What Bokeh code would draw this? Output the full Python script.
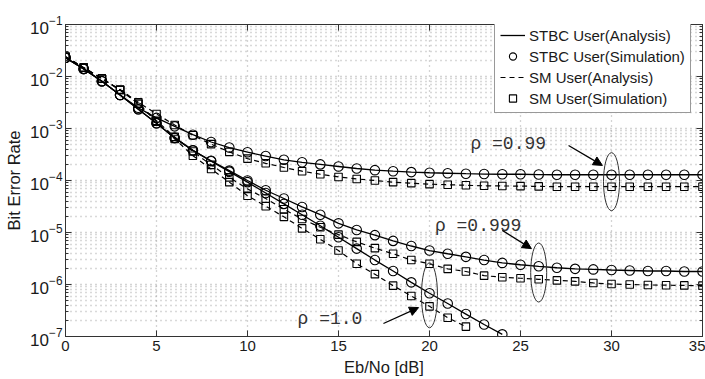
from bokeh.plotting import figure
from bokeh.models import (LinearAxis, SingleIntervalTicker, FixedTicker,
                          Legend, LegendItem, Arrow, NormalHead, Range1d)
from bokeh.core.properties import value
from bokeh.embed import file_html
from bokeh.resources import INLINE

# ---------------- data ----------------
ebno = list(range(36))
ebno_rho1_stbc = list(range(25))
ebno_rho1_sm = list(range(23))

stbc_099 = [2.3e-2, 1.4e-2, 8.1e-3, 4.4e-3, 2.5e-3, 1.6e-3, 1.1e-3, 7.6e-4, 5.5e-4, 4.3e-4,
            3.5e-4, 2.95e-4, 2.5e-4, 2.24e-4, 2.04e-4, 1.86e-4, 1.70e-4, 1.58e-4, 1.51e-4, 1.45e-4,
            1.41e-4, 1.38e-4, 1.35e-4, 1.33e-4, 1.32e-4, 1.32e-4, 1.30e-4, 1.29e-4, 1.29e-4, 1.29e-4,
            1.29e-4, 1.29e-4, 1.29e-4, 1.29e-4, 1.29e-4, 1.29e-4]
sm_099 = [2.4e-2, 1.48e-2, 9.1e-3, 5.6e-3, 3.2e-3, 1.9e-3, 1.17e-3, 7.4e-4, 5.0e-4, 3.55e-4,
          2.63e-4, 2.14e-4, 1.78e-4, 1.51e-4, 1.32e-4, 1.17e-4, 1.07e-4, 1.0e-4, 9.3e-5, 8.9e-5,
          8.5e-5, 8.3e-5, 8.1e-5, 7.9e-5, 7.85e-5, 7.8e-5, 7.7e-5, 7.6e-5, 7.6e-5, 7.6e-5,
          7.6e-5, 7.6e-5, 7.6e-5, 7.6e-5, 7.6e-5, 7.6e-5]
stbc_0999 = [2.3e-2, 1.4e-2, 8.1e-3, 4.4e-3, 2.34e-3, 1.26e-3, 6.6e-4, 3.8e-4, 2.4e-4, 1.55e-4,
             1.0e-4, 6.5e-5, 4.5e-5, 3.1e-5, 2.2e-5, 1.5e-5, 1.12e-5, 8.9e-6, 6.9e-6, 5.5e-6,
             4.5e-6, 3.9e-6, 3.4e-6, 2.95e-6, 2.6e-6, 2.4e-6, 2.24e-6, 2.1e-6, 2.0e-6, 1.95e-6,
             1.9e-6, 1.86e-6, 1.82e-6, 1.82e-6, 1.78e-6, 1.78e-6]
sm_0999 = [2.4e-2, 1.48e-2, 9.1e-3, 5.5e-3, 3.0e-3, 1.41e-3, 6.9e-4, 3.6e-4, 2.0e-4, 1.15e-4,
           6.9e-5, 4.5e-5, 2.8e-5, 1.82e-5, 1.26e-5, 9.1e-6, 6.6e-6, 5.0e-6, 3.9e-6, 2.95e-6,
           2.5e-6, 2.0e-6, 1.78e-6, 1.48e-6, 1.38e-6, 1.32e-6, 1.26e-6, 1.2e-6, 1.15e-6, 1.07e-6,
           1.02e-6, 1.0e-6, 9.8e-7, 9.7e-7, 9.6e-7, 9.5e-7]
stbc_1 = [2.3e-2, 1.4e-2, 8.1e-3, 4.4e-3, 2.34e-3, 1.26e-3, 6.6e-4, 3.8e-4, 2.34e-4, 1.48e-4,
          9.3e-5, 5.75e-5, 3.55e-5, 2.2e-5, 1.35e-5, 8.1e-6, 4.9e-6, 2.95e-6, 1.82e-6, 1.1e-6,
          6.8e-7, 4.3e-7, 2.7e-7, 1.7e-7, 1.1e-7]
sm_1 = [2.4e-2, 1.48e-2, 9.1e-3, 5.5e-3, 3.0e-3, 1.35e-3, 6.3e-4, 3.0e-4, 1.66e-4, 9.3e-5,
        5.1e-5, 3.2e-5, 2.0e-5, 1.2e-5, 7.4e-6, 4.5e-6, 2.5e-6, 1.58e-6, 9.5e-7, 6.0e-7,
        3.8e-7, 2.3e-7, 1.55e-7]

rho_labels = ["\u03c1 =0.99", "\u03c1 =0.999", "\u03c1 =1.0"]
legend_labels = ["STBC User(Analysis)", "STBC User(Simulation)",
                 "SM User(Analysis)", "SM User(Simulation)"]
y_decades = [-7, -6, -5, -4, -3, -2, -1]

# ---------------- annotation placement ----------------
label_x = [22.25, 20.3, 12.75]
label_y = [5.1e-4, 1.35e-5, 2.2e-7]
ell_x = [30, 26, 20]
ell_y = [9.5e-5, 1.7e-6, 6.2e-7]
ell_h = [58, 59, 65]
arrows = [((27.64, 4.7e-4), (29.5, 1.95e-4)),
          ((24.0, 1.1e-5), (25.6, 4.9e-6)),
          ((17.47, 1.78e-7), (19.4, 3.6e-7))]

FONT = "Liberation Sans"
INK = "#1a1a1a"

p = figure(width=705, height=379, x_range=Range1d(0, 35), y_range=Range1d(1e-7, 1e-1),
           y_axis_type="log", output_backend="svg", toolbar_location=None,
           min_border_left=65, min_border_right=3, min_border_top=24, min_border_bottom=43)
p.background_fill_color = "white"
p.border_fill_color = "white"
p.outline_line_color = "#333333"
p.outline_line_width = 1

y_major = [10.0 ** e for e in y_decades]
y_minor = [m * 10.0 ** e for e in y_decades[:-1] for m in range(2, 10)]
yticker = FixedTicker(ticks=y_major, minor_ticks=y_minor)
xticker = SingleIntervalTicker(interval=5, num_minor_ticks=0)

for ax in p.xaxis:
    ax.ticker = xticker
    ax.axis_label = "Eb/No [dB]"
for ax in p.yaxis:
    ax.ticker = yticker
    ax.axis_label = "Bit Error Rate"

for ax in list(p.xaxis) + list(p.yaxis):
    ax.major_tick_in = 6
    ax.major_tick_out = 0
    ax.minor_tick_out = 0
    ax.axis_line_color = "#333333"
    ax.major_tick_line_color = "#333333"
    ax.minor_tick_line_color = "#333333"
    ax.major_label_text_font = FONT
    ax.major_label_text_font_size = "15px"
    ax.major_label_text_color = INK
    ax.axis_label_text_font = FONT
    ax.axis_label_text_font_size = "16.5px"
    ax.axis_label_text_font_style = "normal"
    ax.axis_label_text_color = INK
    ax.major_label_standoff = 4
    ax.axis_label_standoff = 4
for ax in p.xaxis:
    ax.minor_tick_in = 0
for ax in p.yaxis:
    ax.minor_tick_in = 3
    ax.major_label_text_font_size = "17px"
    ax.major_label_standoff = 3

top = LinearAxis(ticker=xticker, major_tick_in=6, major_tick_out=0, minor_tick_in=0,
                 minor_tick_out=0, major_label_text_font_size="1px",
                 major_label_text_alpha=0, major_label_standoff=0,
                 axis_line_color="#333333", major_tick_line_color="#333333")
right = LinearAxis(ticker=yticker, major_tick_in=6, major_tick_out=0, minor_tick_in=3,
                   minor_tick_out=0, major_label_text_font_size="1px",
                   major_label_text_alpha=0, major_label_standoff=0,
                   axis_line_color="#333333", major_tick_line_color="#333333",
                   minor_tick_line_color="#333333")
p.add_layout(top, "above")
p.add_layout(right, "right")

for g in (p.xgrid, p.ygrid):
    g.grid_line_color = "#a0a0a0"
    g.grid_line_dash = "1 4"
    g.grid_line_width = 1.3
    g.grid_line_alpha = 0.9
p.ygrid.minor_grid_line_color = "#a0a0a0"
p.ygrid.minor_grid_line_dash = "1 4"
p.ygrid.minor_grid_line_width = 1.3
p.ygrid.minor_grid_line_alpha = 0.8

DASH = "5 4"
series = [
    (ebno, stbc_099, ebno, sm_099),
    (ebno, stbc_0999, ebno, sm_0999),
    (ebno_rho1_stbc, stbc_1, ebno_rho1_sm, sm_1),
]
legend_renderers = None
for xs, ys, xm, ym in series:
    r1 = p.line(xs, ys, line_color="black", line_width=1.3)
    r2 = p.scatter(xs, ys, marker="circle", size=9.5, fill_color=None,
                   line_color="black", line_width=1.1)
    r3 = p.line(xm, ym, line_color="black", line_width=1.2, line_dash=DASH)
    r4 = p.scatter(xm, ym, marker="square", size=7.5, fill_color=None,
                   line_color="black", line_width=1.1)
    if legend_renderers is None:
        legend_renderers = [r1, r2, r3, r4]

# rho annotations
p.ellipse(x=ell_x, y=ell_y, width=16, height=ell_h, width_units="screen",
          height_units="screen", fill_color=None, line_color="#333333", line_width=1)
p.text(x=label_x, y=label_y, text=rho_labels, text_font=value("Liberation Mono"),
       text_font_size="18px", text_align="left", text_baseline="middle", text_color="#333333")
for (xs0, ys0), (xe0, ye0) in arrows:
    p.add_layout(Arrow(end=NormalHead(size=9, fill_color="black", line_color="black"),
                       x_start=xs0, y_start=ys0, x_end=xe0, y_end=ye0,
                       line_color="black", line_width=1.3))

legend = Legend(items=[LegendItem(label=lab, renderers=[r])
                       for lab, r in zip(legend_labels, legend_renderers)],
                location=(429, 223))
legend.label_text_font = FONT
legend.label_text_font_size = "15px"
legend.label_text_color = INK
legend.glyph_width = 25
legend.glyph_height = 18
legend.label_height = 18
legend.label_standoff = 4
legend.spacing = 3
legend.padding = 5
legend.margin = 0
legend.border_line_color = "#333333"
legend.border_line_width = 1
legend.background_fill_color = "white"
legend.background_fill_alpha = 1
p.add_layout(legend, "center")

open("out.html", "w").write(file_html(p, INLINE))
